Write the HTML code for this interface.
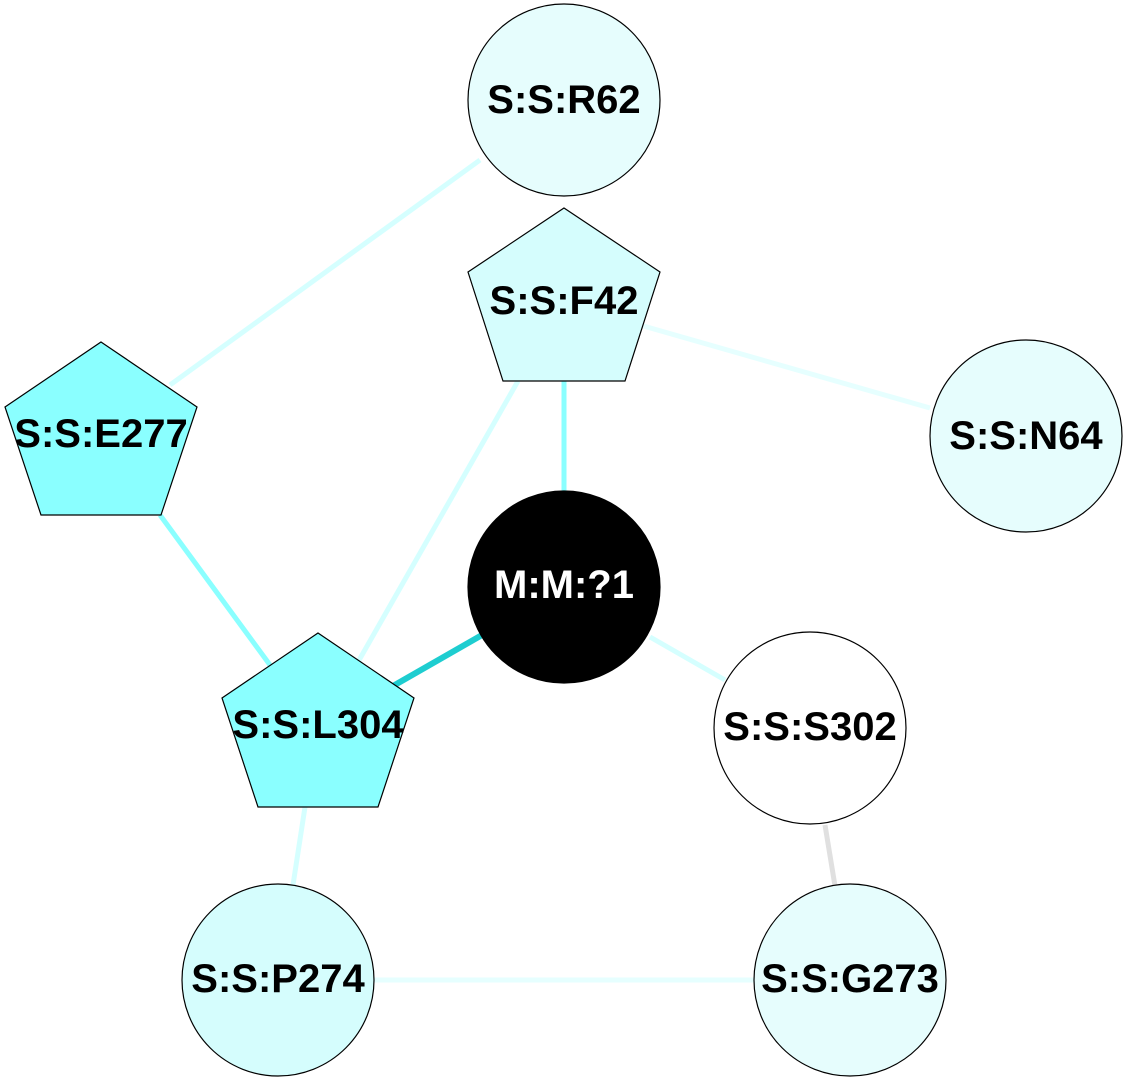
<!DOCTYPE html>
<html><head><meta charset="utf-8"><style>
html,body{margin:0;padding:0;background:#fff;width:1128px;height:1083px;overflow:hidden}
text{font-family:"Liberation Sans",Arial,sans-serif;font-weight:bold;font-size:40px;text-anchor:middle;dominant-baseline:central}
</style></head><body>
<svg width="1128" height="1083" viewBox="0 0 1128 1083" xmlns="http://www.w3.org/2000/svg">
<g stroke-linecap="butt" fill="none">
<line x1="480" y1="160" x2="170" y2="385" stroke="#d5ffff" stroke-width="5"/>
<line x1="640" y1="325" x2="930" y2="408" stroke="#e6ffff" stroke-width="5"/>
<line x1="564" y1="381" x2="564" y2="491" stroke="#8affff" stroke-width="5"/>
<line x1="518" y1="381" x2="358" y2="662" stroke="#d5ffff" stroke-width="5"/>
<line x1="160" y1="515" x2="270" y2="665" stroke="#8affff" stroke-width="5"/>
<line x1="482" y1="635" x2="393" y2="686" stroke="#1ecdd0" stroke-width="6"/>
<line x1="650" y1="637" x2="725" y2="680" stroke="#d5ffff" stroke-width="5"/>
<line x1="825" y1="825" x2="835" y2="886" stroke="#e0e0e0" stroke-width="5"/>
<line x1="305" y1="807" x2="293" y2="885" stroke="#d5ffff" stroke-width="5"/>
<line x1="374" y1="980" x2="754" y2="980" stroke="#e6ffff" stroke-width="5"/>
</g>
<g stroke="#000" stroke-width="1.2">
<circle cx="564" cy="100" r="96" fill="#e6fdfd"/>
<polygon points="564,208 660,272 625,381 503,381 468,272" fill="#d5fdfd"/>
<polygon points="101,342 197,407 161,515 41,515 5,407" fill="#8affff"/>
<circle cx="1026" cy="436" r="96" fill="#e6fdfd"/>
<circle cx="564" cy="587" r="96" fill="#000"/>
<polygon points="318,633 414,698 378,807 258,807 222,698" fill="#8affff"/>
<circle cx="810" cy="728" r="96" fill="#fff"/>
<circle cx="278" cy="980" r="96" fill="#d5fdfd"/>
<circle cx="850" cy="980" r="96" fill="#e6fdfd"/>
</g>
<text x="564" y="100">S:S:R62</text>
<text x="564" y="301">S:S:F42</text>
<text x="101" y="434">S:S:E277</text>
<text x="1026" y="436">S:S:N64</text>
<text x="564" y="585" fill="#fff">M:M:?1</text>
<text x="318" y="725">S:S:L304</text>
<text x="810" y="727">S:S:S302</text>
<text x="278" y="979">S:S:P274</text>
<text x="850" y="979">S:S:G273</text>
</svg>
</body></html>
